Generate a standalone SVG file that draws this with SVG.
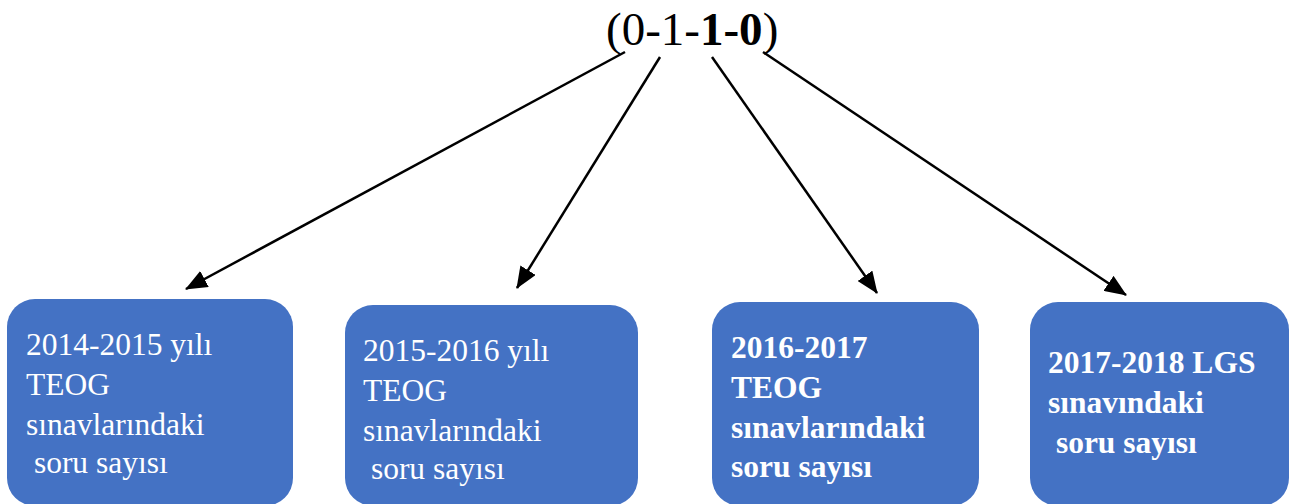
<svg xmlns="http://www.w3.org/2000/svg" width="1291" height="504" viewBox="0 0 1291 504">
<style>
.box{fill:#4472C4;}
.t{font-family:"Liberation Serif","Times New Roman",serif;font-size:31.5px;fill:#ffffff;}
.b{font-weight:bold;}
.title{font-family:"Liberation Serif","Times New Roman",serif;font-size:47px;fill:#000000;}
.conn line{stroke:#000000;stroke-width:2.5;fill:none;marker-end:url(#ah);}
</style>
<defs>
<marker id="ah" markerUnits="userSpaceOnUse" markerWidth="22" markerHeight="18" viewBox="0 0 22 18" refX="21" refY="9" orient="auto">
<path d="M0,0 L22,9 L0,18 Z" fill="#000000"/>
</marker>
</defs>
<rect width="1291" height="504" fill="#ffffff"/>
<g id="title">
<text class="title" x="606" y="45">(0-1-<tspan font-weight="bold">1-0</tspan>)</text>
</g>
<g class="conn" id="connectors">
<line x1="625" y1="52" x2="186" y2="289"/>
<line x1="660" y1="57" x2="517" y2="288"/>
<line x1="712" y1="57" x2="877" y2="293"/>
<line x1="763" y1="52" x2="1126" y2="295"/>
</g>
<g id="node1">
<rect class="box" x="7" y="299" width="286" height="207" rx="28"/>
<text class="t" x="26" y="355">2014-2015 yılı</text>
<text class="t" x="26" y="395">TEOG</text>
<text class="t" x="26" y="435">sınavlarındaki</text>
<text class="t" x="26" y="473" xml:space="preserve"> soru sayısı</text>
</g>
<g id="node2">
<rect class="box" x="345" y="305" width="293" height="201" rx="28"/>
<text class="t" x="363" y="361">2015-2016 yılı</text>
<text class="t" x="363" y="401">TEOG</text>
<text class="t" x="363" y="441">sınavlarındaki</text>
<text class="t" x="363" y="479" xml:space="preserve"> soru sayısı</text>
</g>
<g id="node3">
<rect class="box" x="712" y="302" width="267" height="204" rx="28"/>
<text class="t b" x="731" y="358">2016-2017</text>
<text class="t b" x="731" y="398">TEOG</text>
<text class="t b" x="731" y="438">sınavlarındaki</text>
<text class="t b" x="731" y="477">soru sayısı</text>
</g>
<g id="node4">
<rect class="box" x="1030" y="302" width="259" height="204" rx="28"/>
<text class="t b" x="1048" y="373">2017-2018 LGS</text>
<text class="t b" x="1048" y="413">sınavındaki</text>
<text class="t b" x="1048" y="453" xml:space="preserve"> soru sayısı</text>
</g>
</svg>
